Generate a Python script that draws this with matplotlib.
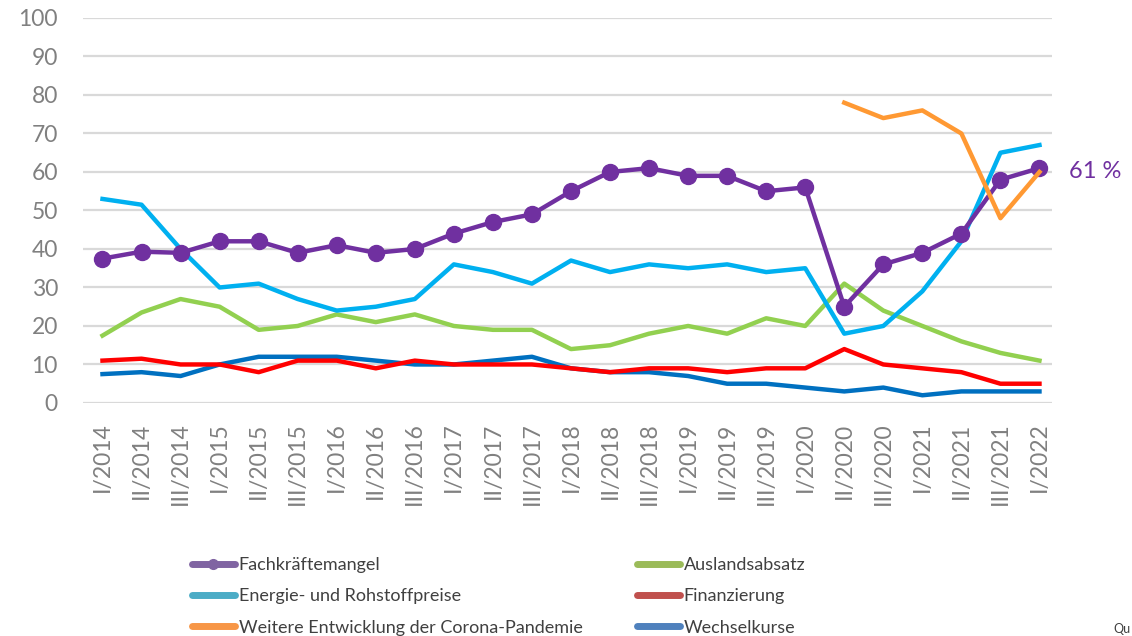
import matplotlib.pyplot as plt
from matplotlib.lines import Line2D
import numpy as np

plt.rcParams['font.family'] = ['Lato', 'DejaVu Sans']

# Umfragezeitpunkte (drei pro Jahr)
jahre = list(range(2014, 2022))
zeitpunkte = [f"{q}/{j}" for j in jahre for q in ("I", "II", "III")] + ["I/2022"]

fachkraefte = [37.5, 39.3, 39, 42, 42, 39, 41, 39, 40, 44, 47, 49, 55, 60, 61,
               59, 59, 55, 56, 25, 36, 39, 44, 58, 61]
energie = [53, 51.5, 40, 30, 31, 27, 24, 25, 27, 36, 34, 31, 37, 34, 36,
           35, 36, 34, 35, 18, 20, 29, 42, 65, 67]
corona = [np.nan] * 19 + [78, 74, 76, 70, 48, 60]
ausland = [17.5, 23.5, 27, 25, 19, 20, 23, 21, 23, 20, 19, 19, 14, 15, 18,
           20, 18, 22, 20, 31, 24, 20, 16, 13, 11]
finanzierung = [11, 11.5, 10, 10, 8, 11, 11, 9, 11, 10, 10, 10, 9, 8, 9,
                9, 8, 9, 9, 14, 10, 9, 8, 5, 5]
wechselkurse = [7.5, 8, 7, 10, 12, 12, 12, 11, 10, 10, 11, 12, 9, 8, 8,
                7, 5, 5, 4, 3, 4, 2, 3, 3, 3]

grau = "#808080"
fig = plt.figure(figsize=(11.32, 6.36), dpi=100)
ax = fig.add_axes([0.0733, 0.3664, 0.856, 0.6053])

x = np.arange(len(zeitpunkte))
lw = 3.2
ax.plot(x, wechselkurse, color="#0070C0", lw=lw)
ax.plot(x, finanzierung, color="#FF0000", lw=lw)
ax.plot(x, ausland, color="#92D050", lw=lw)
ax.plot(x, energie, color="#00B0F0", lw=lw)
ax.plot(x, fachkraefte, color="#7030A0", lw=lw, marker="o", markersize=11.5)
ax.plot(x, corona, color="#FF9933", lw=lw)

ax.text(x[-1] + 0.75, fachkraefte[-1] - 0.8, "61 %", color="#7030A0", fontsize=17,
        va="center", ha="left")

ax.set_xlim(-0.5, 24.32)
ax.set_ylim(0, 100)
ax.set_yticks(range(0, 101, 10))
ax.set_xticks(x)
ax.set_xticklabels(zeitpunkte, rotation=90)
ax.tick_params(axis="both", length=0, colors=grau, labelsize=16.5)
ax.tick_params(axis="y", pad=18)
ax.tick_params(axis="x", pad=14)
ax.grid(axis="y", color="#D9D9D9", lw=1.6)
ax.set_axisbelow(True)
for s in ax.spines.values():
    s.set_visible(False)

# Legende (Farben wie im Original)
eintraege = [
    ("Fachkräftemangel", "#8064A2", True),
    ("Energie- und Rohstoffpreise", "#4BACC6", False),
    ("Weitere Entwicklung der Corona-Pandemie", "#F79646", False),
    ("Auslandsabsatz", "#9BBB59", False),
    ("Finanzierung", "#C0504D", False),
    ("Wechselkurse", "#4F81BD", False),
]
griffe = [Line2D([], [], color=c, lw=5, solid_capstyle="round",
                 marker="o" if m else None, markersize=7)
          for _, c, m in eintraege]
fig.legend(griffe, [e[0] for e in eintraege], ncol=2, frameon=False,
           loc="lower left", bbox_to_anchor=(0.155, -0.025),
           prop={"family": ["Lato", "DejaVu Sans"], "size": 13},
           handlelength=2.4, handletextpad=0.2, columnspacing=3.0, labelspacing=0.85,
           labelcolor="#404040")

fig.text(0.9835, 0.002, "Qu", fontsize=9, color="#404040", ha="left", va="bottom")

fig.savefig("out.png", dpi=100)
